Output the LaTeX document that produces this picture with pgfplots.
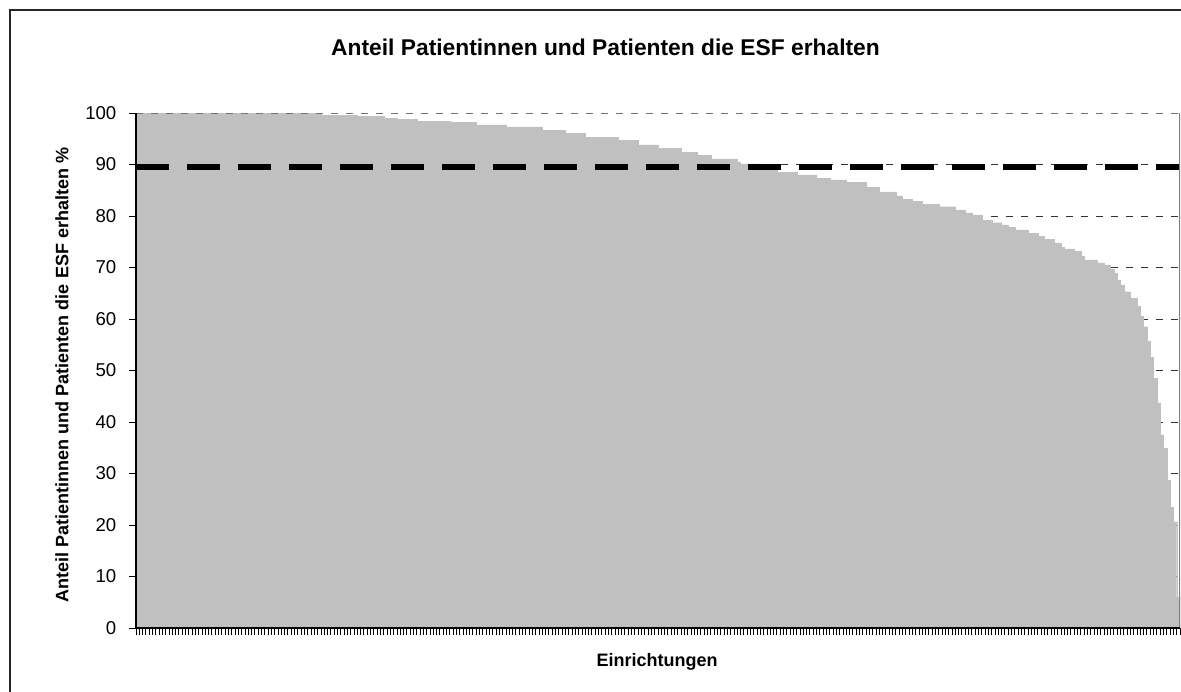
\documentclass[border=0pt]{standalone}
\usepackage{pgfplots}
\pgfplotsset{compat=1.18}
\usepackage{pgfplotstable}
\usepackage{fontspec}
\setmainfont{Liberation Sans}
\definecolor{barfill}{RGB}{192,192,192}

% share of patients receiving ESF, one row per institution (sorted)
\pgfplotstableread[row sep=\\]{
v\\
100\\ 100\\ 100\\ 100\\ 100\\ 100\\ 100\\ 100\\
100\\ 100\\ 100\\ 100\\ 100\\ 100\\ 100\\ 100\\
100\\ 100\\ 100\\ 100\\ 100\\ 100\\ 100\\ 100\\
100\\ 100\\ 100\\ 100\\ 100\\ 100\\ 100\\ 100\\
100\\ 100\\ 100\\ 100\\ 100\\ 100\\ 100\\ 100\\
100\\ 100\\ 100\\ 100\\ 100\\ 100\\ 100\\ 100\\
100\\ 100\\ 100\\ 100\\ 100\\ 100\\ 100\\ 100\\
99.6\\ 99.6\\ 99.6\\ 99.6\\ 99.6\\ 99.6\\ 99.6\\ 99.6\\ 99.6\\ 99.6\\ 99.6\\
99.3\\ 99.3\\ 99.3\\ 99.3\\ 99.3\\ 99.3\\ 99.3\\ 99.3\\
99.0\\ 99.0\\ 99.0\\ 99.0\\
98.8\\ 98.8\\ 98.8\\ 98.8\\ 98.8\\ 98.8\\
98.4\\ 98.4\\ 98.4\\ 98.4\\ 98.4\\ 98.4\\ 98.4\\ 98.4\\ 98.4\\ 98.4\\
98.2\\ 98.2\\ 98.2\\ 98.2\\ 98.2\\ 98.2\\ 98.2\\ 98.2\\
97.7\\ 97.7\\ 97.7\\ 97.7\\ 97.7\\ 97.7\\ 97.7\\ 97.7\\ 97.7\\
97.3\\ 97.3\\ 97.3\\ 97.3\\ 97.3\\ 97.3\\ 97.3\\ 97.3\\ 97.3\\ 97.3\\ 97.3\\
96.7\\ 96.7\\ 96.7\\ 96.7\\ 96.7\\ 96.7\\ 96.7\\
96.0\\ 96.0\\ 96.0\\ 96.0\\ 96.0\\ 96.0\\
95.3\\ 95.3\\ 95.3\\ 95.3\\ 95.3\\ 95.3\\ 95.3\\ 95.3\\ 95.3\\ 95.3\\
94.7\\ 94.7\\ 94.7\\ 94.7\\ 94.7\\ 94.7\\
93.8\\ 93.8\\ 93.8\\ 93.8\\ 93.8\\ 93.8\\
93.2\\ 93.2\\ 93.2\\ 93.2\\ 93.2\\ 93.2\\ 93.2\\
92.4\\ 92.4\\ 92.4\\ 92.4\\ 92.4\\
91.8\\ 91.8\\ 91.8\\ 91.8\\
91.1\\ 91.1\\ 91.1\\ 91.1\\ 91.1\\ 91.1\\ 91.1\\ 91.1\\
90.5\\
90.1\\ 90.1\\ 90.1\\ 90.1\\ 90.1\\ 90.1\\
89.2\\ 89.2\\ 89.2\\ 89.2\\ 89.2\\
88.5\\ 88.5\\ 88.5\\ 88.5\\ 88.5\\ 88.5\\
88.0\\ 88.0\\ 88.0\\ 88.0\\ 88.0\\ 88.0\\
87.3\\ 87.3\\ 87.3\\ 87.3\\
87.0\\ 87.0\\ 87.0\\ 87.0\\ 87.0\\
86.5\\ 86.5\\ 86.5\\ 86.5\\ 86.5\\ 86.5\\
85.5\\ 85.5\\ 85.5\\ 85.5\\
84.7\\ 84.7\\ 84.7\\ 84.7\\ 84.7\\
83.9\\ 83.9\\
83.3\\ 83.3\\ 83.3\\
82.8\\ 82.8\\ 82.8\\
82.3\\ 82.3\\ 82.3\\ 82.3\\ 82.3\\
81.8\\ 81.8\\ 81.8\\ 81.8\\ 81.8\\
81.2\\ 81.2\\ 81.2\\
80.6\\ 80.6\\
80.2\\ 80.2\\ 80.2\\
79.2\\ 79.2\\ 79.2\\
78.7\\ 78.7\\ 78.7\\
78.3\\ 78.3\\
77.8\\ 77.8\\
77.3\\ 77.3\\ 77.3\\ 77.3\\
76.7\\ 76.7\\ 76.7\\
76.0\\ 76.0\\
75.5\\ 75.5\\ 75.5\\
74.8\\ 74.8\\
74.0\\
73.6\\ 73.6\\ 73.6\\
73.1\\ 73.1\\
72.2\\
71.5\\ 71.5\\ 71.5\\ 71.5\\
70.9\\ 70.9\\
70.5\\ 70.5\\
69.7\\ 68.9\\ 67.6\\ 66.6\\
65.3\\ 65.3\\
64.0\\ 64.0\\
62.4\\ 60.5\\ 58.5\\ 55.6\\ 52.6\\ 48.5\\ 43.7\\ 37.5\\
35.0\\ 28.7\\ 23.5\\ 20.6\\ 6.0\\
}\esf

\begin{document}
\begin{tikzpicture}
\draw[line width=0.7pt, black!85] (5pt,-5pt) rectangle (640pt,-380pt);

\node[font=\fontsize{11.4}{13}\selectfont\bfseries] at (302.75pt,-23.5pt)
  {Anteil Patientinnen und Patienten die ESF erhalten};
\node[font=\fontsize{9}{11}\selectfont\bfseries, rotate=90] at (31pt,-187.5pt)
  {Anteil Patientinnen und Patienten die ESF erhalten \%};
\node[font=\fontsize{9}{11}\selectfont\bfseries] at (328.5pt,-331pt)
  {Einrichtungen};

\begin{axis}[
    at={(68pt,-314pt)}, anchor=south west,
    scale only axis, width=522pt, height=257.5pt,
    xmin=-0.5, xmax=315.5,
    ymin=0, ymax=100,
    axis x line*=bottom, axis y line*=left,
    axis line style={-, black, line width=0.6pt},
    ytick={0,10,...,100},
    xtick={-0.5,0.5,...,315.5},
    xticklabels={},
    tick align=outside,
    major tick length=3.3pt,
    tick style={black, line width=0.5pt},
    ymajorgrids=true,
    major grid style={black!80, line width=0.5pt, dash pattern=on 3.5pt off 4pt},
    yticklabel style={font=\fontsize{9.3}{10}\selectfont, xshift=-3pt},
    /pgf/number format/assume math mode=true,
]
\addplot[ybar, bar width=1, bar shift=0pt, fill=barfill, draw=barfill, line width=0.2pt]
    table[x expr=\coordindex, y=v] {\esf};
\addplot[black, line width=2.6pt, dash pattern=on 16.5pt off 9pt]
    coordinates {(-0.5,89.5) (315.5,89.5)};
\draw[black!55, line width=0.6pt, dash pattern=on 3.5pt off 4pt] (rel axis cs:0,1) -- (rel axis cs:1,1);
\draw[gray, line width=1pt] (rel axis cs:1,0) -- (rel axis cs:1,1);
\draw[black, line width=0.6pt] (rel axis cs:0,1) -- (rel axis cs:0,0) -- (rel axis cs:1,0);
\end{axis}

\pgfresetboundingbox
\path[use as bounding box] (0,0) rectangle (590.5pt,-345.5pt);
\end{tikzpicture}
\end{document}
